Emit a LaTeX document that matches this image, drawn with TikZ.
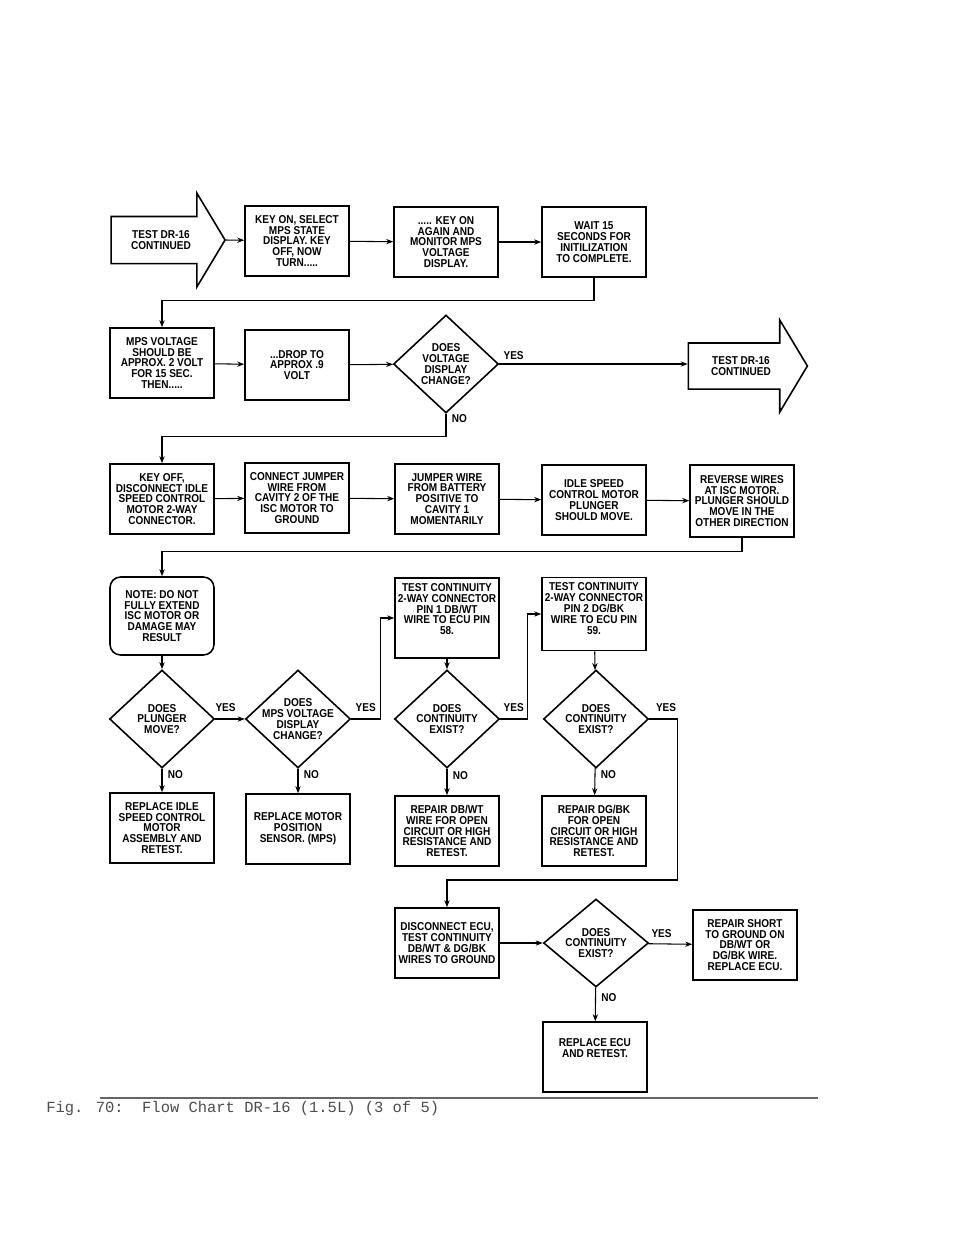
\documentclass[tikz,border=0pt]{standalone}
\usepackage{fontspec}
\newfontfamily\chartfont[FakeStretch=0.88]{Liberation Sans}
\newfontfamily\capfont{Liberation Mono}
\usetikzlibrary{shapes.geometric,shapes.arrows,arrows.meta,calc}

\tikzset{
  chart/.style={font=\chartfont\bfseries\fontsize{6.5}{6.2}\selectfont},
  box/.style={chart,draw,line width=0.9pt,minimum width=2.08cm,minimum height=1.4cm,align=center,inner sep=1pt},
  notebox/.style={box,rounded corners=6pt},
  decide/.style={chart,draw,line width=0.9pt,diamond,aspect=1.07,minimum width=2.1cm,minimum height=1.96cm,inner sep=-3pt,align=center},
  goto/.style={chart,draw,line width=0.9pt,single arrow,single arrow tip angle=118,single arrow head extend=0.24cm,minimum height=2.28cm,minimum width=1.88cm,inner sep=1pt,align=center},
  conn/.style={line width=0.6pt,-{Stealth[length=4pt,width=3pt]}},
  plain/.style={line width=0.6pt},
  ans/.style={chart,inner sep=0pt}
}

\begin{document}
\begin{tikzpicture}[x=0.02cm,y=-0.02cm]
  \useasboundingbox (0,0) rectangle (960,1242);

  % row 1
  \node[goto] (from) at (161,240) {TEST DR-16\\CONTINUED};
  \node[box] (keyon) at (297,241) {KEY ON, SELECT\\MPS STATE\\DISPLAY. KEY\\OFF, NOW\\TURN.....};
  \node[box] (again) at (446,242) {..... KEY ON\\AGAIN AND\\MONITOR MPS\\VOLTAGE\\DISPLAY.};
  \node[box] (wait) at (594,242) {WAIT 15\\SECONDS FOR\\INITILIZATION\\TO COMPLETE.};

  % row 2
  \node[box] (approx) at (162,363) {MPS VOLTAGE\\SHOULD BE\\APPROX. 2 VOLT\\FOR 15 SEC.\\THEN.....};
  \node[box] (drop) at (297,365) {...DROP TO\\APPROX .9\\VOLT};
  \node[decide] (qvolt) at (446,364) {DOES\\VOLTAGE\\DISPLAY\\CHANGE?};
  \node[goto,minimum width=1.84cm,minimum height=2.38cm] (onward) at (741,366) {TEST DR-16\\CONTINUED};

  % row 3
  \node[box] (keyoff) at (162,499) {KEY OFF,\\DISCONNECT IDLE\\SPEED CONTROL\\MOTOR 2-WAY\\CONNECTOR.};
  \node[box] (jumper) at (297,498) {CONNECT JUMPER\\WIRE FROM\\CAVITY 2 OF THE\\ISC MOTOR TO\\GROUND};
  \node[box] (battery) at (447,499) {JUMPER WIRE\\FROM BATTERY\\POSITIVE TO\\CAVITY 1\\MOMENTARILY};
  \node[box] (plunger) at (594,500) {IDLE SPEED\\CONTROL MOTOR\\PLUNGER\\SHOULD MOVE.};
  \node[box,minimum height=1.44cm] (reverse) at (742,501) {REVERSE WIRES\\AT ISC MOTOR.\\PLUNGER SHOULD\\MOVE IN THE\\OTHER DIRECTION};

  % row 4
  \node[notebox,minimum height=1.56cm] (note) at (162,616) {NOTE: DO NOT\\FULLY EXTEND\\ISC MOTOR OR\\DAMAGE MAY\\RESULT};
  \node[box,minimum height=1.6cm] (pinone) at (447,618) {TEST CONTINUITY\\2-WAY CONNECTOR\\PIN 1 DB/WT\\WIRE TO ECU PIN\\58.\\[4pt]\mbox{}};
  \node[box,minimum height=1.46cm] (pintwo) at (594,614) {TEST CONTINUITY\\2-WAY CONNECTOR\\PIN 2 DG/BK\\WIRE TO ECU PIN\\59.\\[0pt]\mbox{}};

  % row 5
  \node[decide] (qmove) at (162,719) {DOES\\PLUNGER\\MOVE?};
  \node[decide] (qmps) at (298,719) {DOES\\MPS VOLTAGE\\DISPLAY\\CHANGE?};
  \node[decide] (qone) at (447,719) {DOES\\CONTINUITY\\EXIST?};
  \node[decide] (qtwo) at (596,719) {DOES\\CONTINUITY\\EXIST?};

  % row 6
  \node[box] (isc) at (162,828) {REPLACE IDLE\\SPEED CONTROL\\MOTOR\\ASSEMBLY AND\\RETEST.};
  \node[box] (sensor) at (298,829) {REPLACE MOTOR\\POSITION\\SENSOR. (MPS)};
  \node[box] (fixone) at (447,831) {REPAIR DB/WT\\WIRE FOR OPEN\\CIRCUIT OR HIGH\\RESISTANCE AND\\RETEST.};
  \node[box] (fixtwo) at (594,831) {REPAIR DG/BK\\FOR OPEN\\CIRCUIT OR HIGH\\RESISTANCE AND\\RETEST.};

  % row 7
  \node[box] (ecu) at (447,943) {DISCONNECT ECU,\\TEST CONTINUITY\\DB/WT \& DG/BK\\WIRES TO GROUND};
  \node[decide,minimum height=1.76cm] (qshort) at (596,943) {DOES\\CONTINUITY\\EXIST?};
  \node[box] (short) at (745,945) {REPAIR SHORT\\TO GROUND ON\\DB/WT OR\\DG/BK WIRE.\\REPLACE ECU.};
  \node[box] (newecu) at (595,1057) {REPLACE ECU\\AND RETEST.\\[4pt]\mbox{}};

  % connectors
  \draw[conn] (from.tip) -- (keyon);
  \draw[conn] (keyon) -- (again);
  \draw[conn] (again) -- (wait);
  \draw[conn] (wait.south) -- ++(0,23) -| (approx.north);
  \draw[conn] (approx) -- (drop);
  \draw[conn] (drop) -- (qvolt);
  \draw[conn] (qvolt.east) -- node[ans,above right,pos=0.02,yshift=2pt] {YES} (onward.west |- qvolt.east);
  \draw[conn] (qvolt.south) -- node[ans,right,pos=0.2,xshift=3pt] {NO} ++(0,23) -| (keyoff.north);
  \draw[conn] (keyoff) -- (jumper);
  \draw[conn] (jumper) -- (battery);
  \draw[conn] (battery) -- (plunger);
  \draw[conn] (plunger) -- (reverse);
  \draw[conn] (reverse.south) -- ++(0,14) -| (note.north);
  \draw[conn] (note) -- (qmove);
  \draw[conn] (pinone) -- (qone);
  \draw[conn] (pintwo) -- (qtwo);
  \draw[conn] (qmove) -- node[ans,above=4pt,pos=0.35] {YES} (qmps);
  \draw[conn] (qmps.east) -- node[ans,above=4pt] {YES} ++(29,0) |- (pinone.west);
  \draw[conn] (qone.east) -- node[ans,above=4pt] {YES} ++(27,0) |- (pintwo.west);
  \draw[conn] (qtwo.east) -- node[ans,above=4pt,pos=0.6] {YES} ++(28,0) -- ($(qtwo.east)+(28,161)$) -| (ecu.north);
  \draw[conn] (qmove) -- node[ans,right,pos=0.25,xshift=3pt] {NO} (isc);
  \draw[conn] (qmps) -- node[ans,right,pos=0.25,xshift=3pt] {NO} (sensor);
  \draw[conn] (qone) -- node[ans,right,pos=0.25,xshift=3pt] {NO} (fixone);
  \draw[conn] (qtwo) -- node[ans,right,pos=0.25,xshift=3pt] {NO} (fixtwo);
  \draw[conn] (ecu) -- (qshort);
  \draw[conn] (qshort) -- node[ans,above=3pt,pos=0.3] {YES} (short);
  \draw[conn] (qshort) -- node[ans,right,pos=0.3,xshift=3pt] {NO} (newecu);

  % caption
  \draw[plain,black!60] (100,1098) -- (818,1098);
  \node[anchor=west,inner sep=0pt,text=black!70,font=\capfont\fontsize{8.8}{10}\selectfont] (caption) at (46,1108) {Fig. 70:\ \ Flow Chart DR-16 (1.5L) (3 of 5)};
\end{tikzpicture}
\end{document}
